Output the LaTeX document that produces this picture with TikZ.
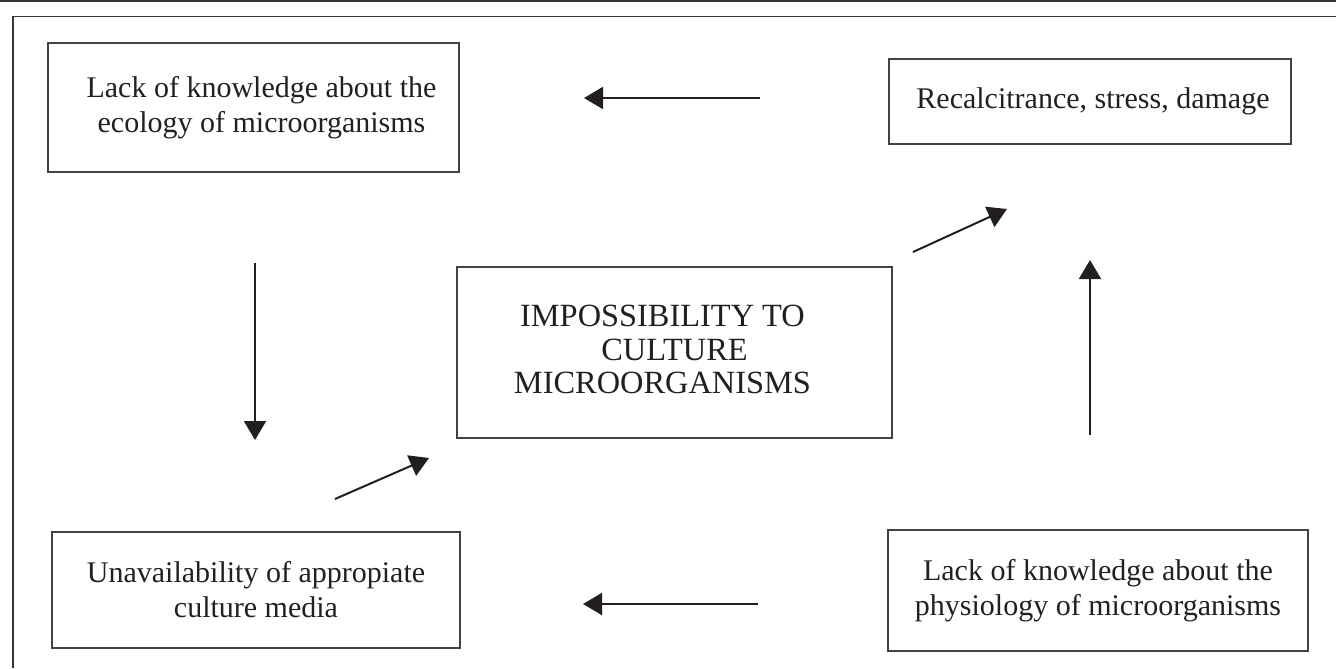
\documentclass[tikz,border=0pt]{standalone}
\usepackage{fontspec}
\setmainfont{Liberation Serif}
\usetikzlibrary{arrows.meta}
\definecolor{ink}{HTML}{231F20}
\tikzset{
  box/.style={draw=ink!85, line width=0.75pt, inner sep=0pt, align=center, text=ink,
    font=\fontsize{15}{17.5}\selectfont},
  bigbox/.style={box, font=\fontsize{16.2}{16.8}\selectfont},
  arr/.style={draw=ink, line width=1pt, -{Triangle[length=9.5pt, width=11pt]}},
  frame/.style={draw=ink!90, line width=0.75pt}
}
\begin{document}
\begin{tikzpicture}[x=0.5pt, y=-0.5pt]
  \useasboundingbox (0,0) rectangle (1336,668);
  % page rules
  \coordinate (r1a) at (0,1);
  \coordinate (r1b) at (1336,1);
  \coordinate (fa) at (13,668);
  \coordinate (fb) at (13,16.5);
  \coordinate (fc) at (1336,16.5);
  \draw[frame] (r1a) -- (r1b);
  \draw[frame] (fa) -- (fb) -- (fc);

  % boxes
  \node[box, minimum width=205.5pt, minimum height=64.5pt] (tl) at (253.5,107.5)
    {\hspace*{8pt}Lack of knowledge about the\\\hspace*{8pt}ecology of microorganisms};
  \node[box, minimum width=201pt, minimum height=42.5pt] (tr) at (1090,101.5)
    {\hspace*{3pt}Recalcitrance, stress, damage};
  \node[box, minimum width=204pt, minimum height=58pt] (bl) at (256,590)
    {Unavailability of appropiate\\culture media};
  \node[box, minimum width=210pt, minimum height=60.5pt] (br) at (1098,590.5)
    {Lack of knowledge about the\\physiology of microorganisms};
  \node[bigbox, minimum width=217.5pt, minimum height=85.5pt] (c) at (674.5,352.5)
    {\raisebox{3pt}{IMPOSSIBILITY TO}\hspace*{12pt}\\\raisebox{3pt}{CULTURE}\hspace*{12pt}\\\raisebox{3pt}{MICROORGANISMS}\hspace*{12pt}};

  % arrow end points
  \coordinate (a1s) at (760,98);   \coordinate (a1e) at (584,98);
  \coordinate (a2s) at (255,263);  \coordinate (a2e) at (255,440);
  \coordinate (a3s) at (335,499);  \coordinate (a3e) at (429,458);
  \coordinate (a4s) at (913,252);  \coordinate (a4e) at (1007,209);
  \coordinate (a5s) at (1090,435); \coordinate (a5e) at (1090,260);
  \coordinate (a6s) at (758,604);  \coordinate (a6e) at (583,604);

  \draw[arr] (a1s) -- (a1e);
  \draw[arr] (a2s) -- (a2e);
  \draw[arr] (a3s) -- (a3e);
  \draw[arr] (a4s) -- (a4e);
  \draw[arr] (a5s) -- (a5e);
  \draw[arr] (a6s) -- (a6e);
\end{tikzpicture}
\end{document}
